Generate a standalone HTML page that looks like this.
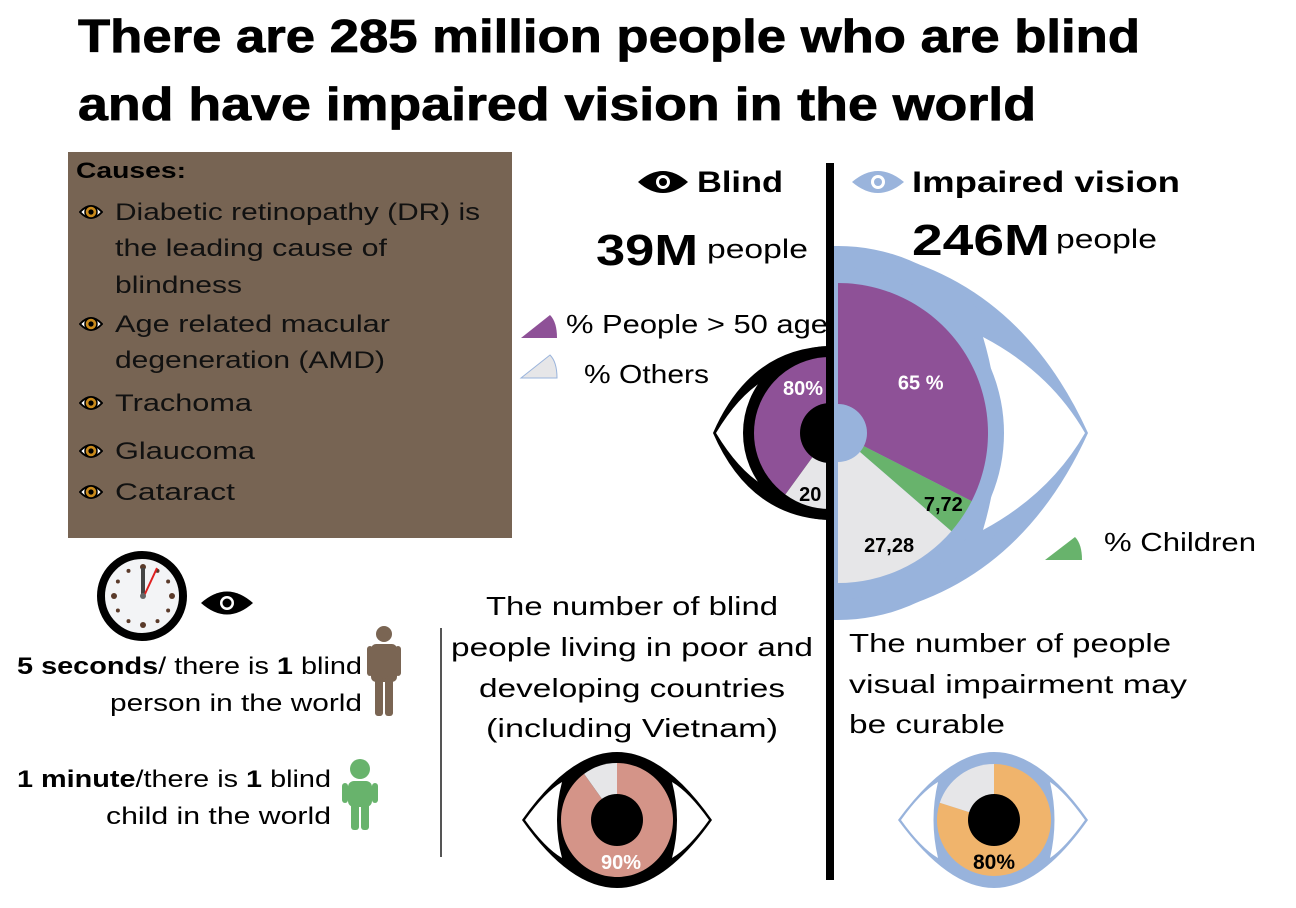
<!DOCTYPE html>
<html><head><meta charset="utf-8"><style>
html,body{margin:0;padding:0;background:#fff;}
svg{display:block;font-family:"Liberation Sans",sans-serif;}
</style></head><body>
<svg id="root" width="1296" height="908" viewBox="0 0 1296 908" xmlns="http://www.w3.org/2000/svg">
<defs>
<clipPath id="leftHalf"><rect x="600" y="150" width="230" height="500"/></clipPath>
<clipPath id="rightHalf"><rect x="834" y="150" width="300" height="500"/></clipPath>
<symbol id="bul" viewBox="0 0 24 18">
<path d="M1 9 Q12 -3 23 9 Q12 21 1 9 Z" fill="#fff" stroke="#000" stroke-width="2"/>
<circle cx="12" cy="9" r="6" fill="#c98a1c" stroke="#000" stroke-width="1.5"/>
<circle cx="12" cy="9" r="2.6" fill="#000"/>
</symbol>
</defs>

<g>
<text x="78" y="52" font-size="46" font-weight="bold" textLength="1062" lengthAdjust="spacingAndGlyphs" stroke="#000" stroke-width="0.8">There are 285 million people who are blind</text>
<text x="78" y="120" font-size="46" font-weight="bold" textLength="958" lengthAdjust="spacingAndGlyphs" stroke="#000" stroke-width="0.8">and have impaired vision  in the world</text>
</g>

<g>
<rect x="68" y="152" width="444" height="386" fill="#776453"/>
<text x="76" y="178" font-size="22" font-weight="bold" textLength="110" lengthAdjust="spacingAndGlyphs">Causes:</text>
<g font-size="24" fill="#111">
<text x="115" y="220" textLength="365" lengthAdjust="spacingAndGlyphs">Diabetic retinopathy (DR) is</text>
<text x="115" y="256" textLength="272" lengthAdjust="spacingAndGlyphs">the leading cause of</text>
<text x="115" y="293" textLength="127" lengthAdjust="spacingAndGlyphs">blindness</text>
<text x="115" y="332" textLength="275" lengthAdjust="spacingAndGlyphs">Age related macular</text>
<text x="115" y="368" textLength="270" lengthAdjust="spacingAndGlyphs">degeneration (AMD)</text>
<text x="115" y="411" textLength="137" lengthAdjust="spacingAndGlyphs">Trachoma</text>
<text x="115" y="459" textLength="140" lengthAdjust="spacingAndGlyphs">Glaucoma</text>
<text x="115" y="500" textLength="120" lengthAdjust="spacingAndGlyphs">Cataract</text>
</g>
<use href="#bul" x="79" y="203" width="24" height="18"/>
<use href="#bul" x="79" y="315" width="24" height="18"/>
<use href="#bul" x="79" y="394" width="24" height="18"/>
<use href="#bul" x="79" y="442" width="24" height="18"/>
<use href="#bul" x="79" y="483" width="24" height="18"/>
</g>

<g>
<path d="M638 182 Q663 160 688 182 Q663 204 638 182 Z" fill="#000"/>
<circle cx="663" cy="182" r="7" fill="#fff"/><circle cx="663" cy="182" r="4" fill="#000"/>
<text x="697" y="192" font-size="30" font-weight="bold" textLength="86" lengthAdjust="spacingAndGlyphs">Blind</text>
<text x="596" y="265" font-size="44" font-weight="bold" textLength="102" lengthAdjust="spacingAndGlyphs">39M</text>
<text x="707" y="258" font-size="27" textLength="101" lengthAdjust="spacingAndGlyphs">people</text>
</g>
<g>
<path d="M852 182 Q878 160 904 182 Q878 204 852 182 Z" fill="#9ab4dc"/>
<circle cx="878" cy="182" r="7" fill="#fff"/><circle cx="878" cy="182" r="4" fill="#9ab4dc"/>
<text x="912" y="192" font-size="30" font-weight="bold" textLength="268" lengthAdjust="spacingAndGlyphs">Impaired vision</text>
<text x="912" y="255" font-size="44" font-weight="bold" textLength="138" lengthAdjust="spacingAndGlyphs">246M</text>
<text x="1056" y="248" font-size="27" textLength="101" lengthAdjust="spacingAndGlyphs">people</text>
</g>

<g>
<g>
<path d="M521 338 L557 338 Q557 322 550 315 Z" fill="#8e5197"/>
<text x="566" y="333" font-size="26" textLength="262" lengthAdjust="spacingAndGlyphs">% People &gt; 50 age</text>
</g>
<g>
<path d="M521 378 L557 378 Q557 362 550 355 Z" fill="#e6e6e8" stroke="#9ab4dc" stroke-width="1"/>
<text x="584" y="383" font-size="26" textLength="125" lengthAdjust="spacingAndGlyphs">% Others</text>
</g>
<g>
<path d="M1045 560 L1082 560 Q1082 544 1075 537 Z" fill="#68b36c"/>
<text x="1104" y="551" font-size="26" textLength="152" lengthAdjust="spacingAndGlyphs">% Children</text>
</g>
</g>

<g clip-path="url(#leftHalf)">
<path d="M713 433 Q750 348 830 346 L830 520 Q750 518 713 433 Z" fill="#000"/>
<path d="M716 433 Q740 393 768 378 Q748 433 768 488 Q740 473 716 433 Z" fill="#fff"/>
<circle cx="830" cy="433" r="87" fill="#000"/>
<g id="blindPie"></g>
<circle cx="830" cy="433" r="30" fill="#000"/>
</g>
<g clip-path="url(#rightHalf)">
<path d="M836 246 Q1010 262 1088 433 Q1010 604 836 620 Z" fill="#98b3dc"/>
<circle cx="838" cy="433" r="187" fill="#98b3dc"/>
<path d="M983 337 Q1050 372 1085 433 Q1050 494 983 530 Q1012 433 983 337 Z" fill="#fff"/>
<circle cx="838" cy="433" r="166" fill="#98b3dc"/>
<g id="impPie"></g>
<circle cx="838" cy="433" r="29" fill="#98b3dc"/>
</g>
<g id="mainLabels" font-weight="bold" font-size="20"></g>
<rect x="826" y="163" width="8" height="717" fill="#000"/>

<g font-size="26" text-anchor="middle">
<text x="632" y="615" textLength="292" lengthAdjust="spacingAndGlyphs">The number of blind</text>
<text x="632" y="656" textLength="362" lengthAdjust="spacingAndGlyphs">people living in poor and</text>
<text x="632" y="697" textLength="306" lengthAdjust="spacingAndGlyphs">developing countries</text>
<text x="632" y="737" textLength="292" lengthAdjust="spacingAndGlyphs">(including Vietnam)</text>
</g>
<g font-size="26">
<text x="849" y="652" textLength="322" lengthAdjust="spacingAndGlyphs">The number of people</text>
<text x="849" y="693" textLength="338" lengthAdjust="spacingAndGlyphs">visual impairment may</text>
<text x="849" y="733" textLength="156" lengthAdjust="spacingAndGlyphs">be curable</text>
</g>
<rect x="440" y="628" width="2" height="229" fill="#555"/>

<g>
<path d="M522 820 Q570 752 617 752 Q664 752 712 820 Q664 888 617 888 Q570 888 522 820 Z" fill="#000"/>
<path d="M525 820 Q545 792 562 782 Q552 820 562 858 Q545 848 525 820 Z" fill="#fff"/>
<path d="M709 820 Q689 792 672 782 Q682 820 672 858 Q689 848 709 820 Z" fill="#fff"/>
<g id="poorPie"></g>
<circle cx="617" cy="820" r="26" fill="#000"/>
<text x="621" y="869" font-size="20" font-weight="bold" fill="#fff" text-anchor="middle">90%</text>
</g>
<g>
<path d="M898 820 Q948 752 994 752 Q1040 752 1088 820 Q1040 888 994 888 Q948 888 898 820 Z" fill="#98b3dc"/>
<path d="M901 820 Q921 792 938 782 Q929 820 938 858 Q921 848 901 820 Z" fill="#fff"/>
<path d="M1085 820 Q1065 792 1050 782 Q1059 820 1050 858 Q1065 848 1085 820 Z" fill="#fff"/>
<g id="curPie"></g>
<circle cx="994" cy="820" r="26" fill="#000"/>
<text x="994" y="869" font-size="21" font-weight="bold" fill="#000" text-anchor="middle">80%</text>
</g>

<g>
<circle cx="142" cy="596" r="41" fill="#f3f4f6" stroke="#000" stroke-width="8"/>
<g id="clockTicks" fill="#5a3a2a"></g>
<line x1="143" y1="596" x2="143" y2="568" stroke="#444" stroke-width="4"/>
<line x1="144" y1="596" x2="157" y2="568" stroke="#e02020" stroke-width="2"/>
<circle cx="143" cy="596" r="3" fill="#666"/>
</g>
<g>
<path d="M201 603 Q227 580 253 603 Q227 626 201 603 Z" fill="#000"/>
<circle cx="227" cy="603" r="7" fill="#fff"/><circle cx="227" cy="603" r="4.5" fill="#000"/>
</g>
<g font-size="24" text-anchor="end">
<text x="362" y="674" textLength="345" lengthAdjust="spacingAndGlyphs"><tspan font-weight="bold">5 seconds</tspan>/ there is <tspan font-weight="bold">1</tspan> blind</text>
<text x="362" y="711" textLength="252" lengthAdjust="spacingAndGlyphs">person in the world</text>
</g>
<g fill="#7a6553">
<circle cx="384" cy="634" r="8"/>
<rect x="371" y="644" width="26" height="38" rx="5"/>
<rect x="367" y="646" width="6" height="30" rx="3"/><rect x="395" y="646" width="6" height="30" rx="3"/>
<rect x="375" y="676" width="8" height="40" rx="3"/><rect x="385" y="676" width="8" height="40" rx="3"/>
</g>
<g font-size="24" text-anchor="end">
<text x="331" y="787" textLength="314" lengthAdjust="spacingAndGlyphs"><tspan font-weight="bold">1 minute</tspan>/there is <tspan font-weight="bold">1</tspan> blind</text>
<text x="331" y="824" textLength="225" lengthAdjust="spacingAndGlyphs">child in the world</text>
</g>
<g fill="#68b36c">
<circle cx="360" cy="769" r="10"/>
<rect x="348" y="781" width="24" height="26" rx="6"/>
<rect x="342" y="783" width="6" height="20" rx="3"/><rect x="372" y="783" width="6" height="20" rx="3"/>
<rect x="351" y="800" width="8" height="30" rx="3"/><rect x="361" y="800" width="8" height="30" rx="3"/>
</g>
</svg>
<script>
// chart data
const blindCats = ["Over 50", "Others"];
const blindVals = [80, 20];
const impCats = ["Over 50", "Children", "Others"];
const impVals = [65, 7.72, 27.28];
const impLabels = ["65 %", "7,72", "27,28"];
const poorVals = [90, 10];
const curableVals = [80, 20];

const NS = "http://www.w3.org/2000/svg";
function pt(cx, cy, rx, ry, a, dir) {
  return [cx + dir * rx * Math.sin(a), cy - ry * Math.cos(a)];
}
function wedge(g, cx, cy, rx, ry, a0, a1, dir, fill, name) {
  const p0 = pt(cx, cy, rx, ry, a0, dir), p1 = pt(cx, cy, rx, ry, a1, dir);
  const large = Math.abs(a1 - a0) > Math.PI ? 1 : 0;
  const sweep = dir > 0 ? 1 : 0;
  const p = document.createElementNS(NS, "path");
  p.setAttribute("d", `M${cx},${cy} L${p0[0]},${p0[1]} A${rx},${ry} 0 ${large} ${sweep} ${p1[0]},${p1[1]} Z`);
  p.setAttribute("fill", fill);
  
  
  g.appendChild(p);
}
function halfPie(id, cx, cy, r, vals, colors, dir, names) {
  const g = document.getElementById(id);
  const total = vals.reduce((a, b) => a + b, 0);
  let a = 0; const mids = [];
  vals.forEach((v, i) => {
    const span = Math.PI * v / total;
    wedge(g, cx, cy, r, r, a, a + span, dir, colors[i], names[i]);
    mids.push(a + span / 2);
    a += span;
  });
  return mids;
}
function fullPie(id, cx, cy, rx, ry, vals, colors, names) {
  const g = document.getElementById(id);
  const total = vals.reduce((a, b) => a + b, 0);
  let a = 0;
  vals.forEach((v, i) => {
    const span = 2 * Math.PI * v / total;
    wedge(g, cx, cy, rx, ry, a, a + span, 1, colors[i], names[i]);
    a += span;
  });
}
const bm = halfPie("blindPie", 830, 433, 76, blindVals, ["#8e5197", "#e6e6e8"], -1, ["blind-slice-over-50", "blind-slice-others"]);
const im = halfPie("impPie", 838, 433, 150, impVals, ["#8e5197", "#68b36c", "#e6e6e8"], 1, ["impaired-slice-over-50", "impaired-slice-children", "impaired-slice-others"]);
fullPie("poorPie", 617, 820, 56, 57, poorVals, ["#d49488", "#e6e6e8"], ["poor-slice-blind", "poor-slice-other"]);
fullPie("curPie", 994, 820, 57, 56, curableVals, ["#f0b46c", "#e6e6e8"], ["curable-slice-yes", "curable-slice-no"]);

const lab = document.getElementById("mainLabels");
function addLabel(x, y, txt, fill, name) {
  const t = document.createElementNS(NS, "text");
  t.setAttribute("x", x); t.setAttribute("y", y);
  t.setAttribute("text-anchor", "middle");
  t.setAttribute("fill", fill);
  t.textContent = txt;
  
  
  lab.appendChild(t);
}
addLabel(803, 395, blindVals[0] + "%", "#fff", "label-blind-over-50");
let p = pt(830, 433, 64, 64, bm[1], -1);
addLabel(p[0], p[1] + 7, String(blindVals[1]), "#000", "label-blind-others");
const impR = [97, 127, 123];
const impFill = ["#fff", "#000", "#000"];
im.forEach((m, i) => {
  const q = pt(838, 433, impR[i], impR[i], m, 1);
  addLabel(q[0], q[1] + 7, impLabels[i], impFill[i], "label-impaired-" + i);
});

const ct = document.getElementById("clockTicks");
for (let i = 0; i < 12; i++) {
  const a = i * Math.PI / 6;
  const c = document.createElementNS(NS, "circle");
  c.setAttribute("cx", 143 + 29 * Math.sin(a));
  c.setAttribute("cy", 596 - 29 * Math.cos(a));
  c.setAttribute("r", i % 3 === 0 ? 3 : 2);
  
  
  ct.appendChild(c);
}
</script>
</body></html>
